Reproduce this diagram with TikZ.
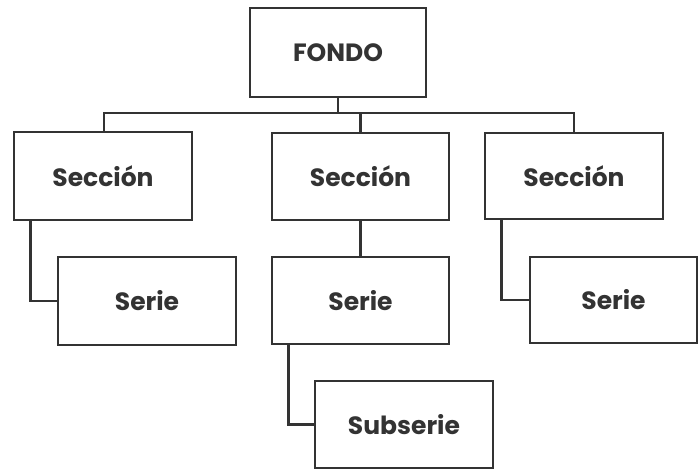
\documentclass[tikz,border=0pt]{standalone}
\usepackage{fontspec}
\setmainfont{Poppins}
\begin{document}
\begin{tikzpicture}[x=1pt,y=-1pt,
  box/.style={draw=black!80, line width=2.6pt, fill=white, inner sep=0pt,
    font=\fontsize{25}{28}\selectfont\bfseries, text=black!80},
  link/.style={draw=black!80, line width=2.6pt}]
\useasboundingbox (0,0) rectangle (698,470);
\node[box, minimum width=176, minimum height=89] (F) at (338,52.5) {FONDO};
\node[box, minimum width=178, minimum height=88] (S1) at (103,176) {Sección};
\node[box, minimum width=177, minimum height=87] (S2) at (360.5,176.5) {Sección};
\node[box, minimum width=178, minimum height=86] (S3) at (574,176) {Sección};
\node[box, minimum width=178, minimum height=88] (R1) at (147,301) {Serie};
\node[box, minimum width=177, minimum height=87] (R2) at (360.5,300.5) {Serie};
\node[box, minimum width=167, minimum height=86] (R3) at (613.5,300) {Serie};
\node[box, minimum width=178, minimum height=87] (U) at (404,424.5) {Subserie};
\coordinate (bus) at (0,113);
\draw[link] (F.south) -- (F.south |- bus);
\draw[link] ([xshift=1]S1.north) -- ([xshift=1]S1.north |- bus) -- (S3.north |- bus) -- (S3.north);
\draw[link] (S2.north) -- (S2.north |- bus);
\draw[link] ([xshift=18]S1.south west) |- (R1.west);
\draw[link] (S2.south) -- (R2.north);
\draw[link] ([xshift=18]S3.south west) |- (R3.west);
\draw[link] ([xshift=18]R2.south west) |- (U.west);
\end{tikzpicture}
\end{document}
